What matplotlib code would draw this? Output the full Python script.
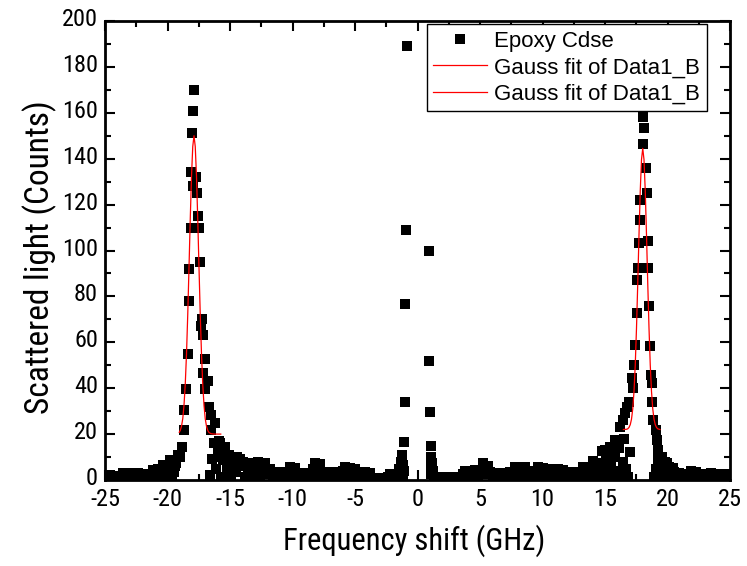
import matplotlib
matplotlib.use('Agg')
import matplotlib.pyplot as plt
import numpy as np
from matplotlib.ticker import MultipleLocator
from matplotlib import font_manager
from matplotlib.font_manager import FontProperties
from matplotlib.transforms import ScaledTranslation

# ---------------- data ----------------
left_base_x = [-25.0, -24.8, -24.6, -24.4, -24.2, -24.0, -23.8, -23.6, -23.4, -23.2, -23.0, -22.8,
               -22.6, -22.4, -22.2, -22.0, -21.8, -21.6, -21.4, -21.2, -21.0, -20.8, -20.6, -20.4,
               -20.2, -20.0, -19.8, -19.6, -19.5, -19.4, -19.3, -19.2]
left_base_y = [1.8, 0.6, 2.0, 1.1, 1.9, 0.7, 1.6, 3.2, 1.2, 2.9, 0.8, 2.4,
               1.3, 3.1, 0.9, 2.3, 1.2, 2.6, 1.0, 4.4, 1.8, 4.6, 2.6, 6.5,
               1.4, 5.8, 8.7, 1.8, 3.5, 6.0, 7.5, 11.0]

left_peak_x = [-19.0, -18.87, -18.7, -18.65, -18.5, -18.4, -18.25, -18.3, -18.15, -18.1, -18.04, -17.96,
               -17.86, -17.93, -17.74, -17.6, -17.53, -17.46, -17.4, -17.35, -17.27, -17.2, -17.0, -17.13,
               -16.8, -17.0, -16.7, -16.5, -16.2, -16.5, -15.8, -15.4, -15.8, -15.0, -14.47]
left_peak_y = [10.2, 14.5, 21.8, 30.5, 39.6, 55, 78, 92, 110, 134, 151, 161,
               170, 128, 132, 125, 115, 110, 95, 67, 70, 63, 52.7, 46.5,
               43, 39.6, 32, 28.3, 24.7, 21.8, 16, 14.5, 10.2, 9.4, 10.2]

flank_x = [-16.6, -16.45, -16.3, -16.15, -16.0, -15.85, -15.7, -15.55, -15.4, -15.25, -15.1, -14.95,
           -14.8, -14.65, -14.5, -14.35, -14.2]
flank_y = [2.0, 9.0, 16.0, 5.0, 12.5, 17.0, 1.5, 8.5, 14.0, 4.5, 11.0, 1.2,
           7.5, 9.6, 3.5, 6.0, 9.0]

mid_base_x = [-14.0, -13.8, -13.6, -13.4, -13.2, -13.0, -12.8, -12.6, -12.4, -12.2, -12.0, -11.8,
              -11.6, -11.4, -11.2, -11.0, -10.8, -10.6, -10.4, -10.2, -10.0, -9.8, -9.6, -9.4,
              -9.2, -9.0, -8.8, -8.6, -8.4, -8.2, -8.0, -7.8, -7.6, -7.4, -7.2, -7.0,
              -6.8, -6.6, -6.4, -6.2, -6.0, -5.8, -5.6, -5.4, -5.2, -5.0, -4.8, -4.6,
              -4.4, -4.2, -4.0, -3.8, -3.6, -3.4, -3.2, -3.0, -2.8, -2.6, -2.4, -2.2,
              -2.0, -1.8, -1.6, -1.5, -1.4, -1.35, -1.3, -1.2, -1.15, -1.1]
mid_base_y = [8.0, 1.5, 4.8, 7.4, 2.0, 5.5, 7.8, 1.2, 4.5, 7.4, 2.5, 5.0,
              1.0, 3.7, 2.0, 3.5, 0.8, 3.6, 2.0, 5.5, 1.5, 5.3, 3.0, 1.0,
              3.2, 1.8, 3.0, 1.0, 5.0, 7.6, 2.0, 7.0, 3.5, 1.0, 3.7, 2.0,
              3.5, 0.8, 3.6, 1.8, 4.0, 5.5, 1.2, 5.3, 3.0, 5.0, 1.0, 3.7,
              2.0, 3.5, 0.8, 3.0, 1.0, 0.5, 1.0, 0.4, 0.9, 0.5, 1.2, 2.4,
              1.0, 2.4, 1.5, 5.0, 3.0, 8.0, 2.0, 6.5, 1.5, 4.0]

rayleigh_x = [-1.24, -1.08, -1.03, -0.98, -0.92, -0.82, 0.9, 0.94, 1.0, 1.06, 1.06, 1.05, 1.1, 1.15, 1.2, 1.3]
rayleigh_y = [10.9, 16.4, 33.8, 76.7, 108.9, 189.2, 99.9, 51.9, 29.8, 14.8, 10.2, 6.0, 2.5, 7.5, 4.0, 1.5]

right_base_x = [1.4, 1.6, 1.8, 2.0, 2.2, 2.4, 2.6, 2.8, 3.0, 3.2, 3.4, 3.6,
                3.8, 4.0, 4.2, 4.4, 4.6, 4.8, 5.0, 5.2, 5.4, 5.6, 5.8, 6.0,
                6.2, 6.4, 6.6, 6.8, 7.0, 7.2, 7.4, 7.6, 7.8, 8.0, 8.2, 8.4,
                8.6, 8.8, 9.0, 9.2, 9.4, 9.6, 9.8, 10.0, 10.2, 10.4, 10.6, 10.8,
                11.0, 11.2, 11.4, 11.6, 11.8, 12.0, 12.2, 12.4, 12.6, 12.8, 13.0, 13.2,
                13.4, 13.6, 13.8, 14.0, 14.2, 14.4, 14.6, 14.75, 14.9, 15.05, 15.2, 15.35,
                15.5, 15.65, 15.8, 15.95, 16.1, 16.25, 16.4, 16.55, 16.7, 16.85, 17.0]
right_base_y = [1.0, 0.5, 1.2, 0.4, 0.9, 0.6, 1.1, 0.5, 1.0, 0.6, 1.3, 2.5,
                4.0, 1.0, 3.5, 2.0, 4.2, 1.2, 4.0, 7.4, 2.5, 6.0, 3.5, 1.0,
                3.0, 2.0, 3.2, 0.8, 3.0, 1.8, 3.3, 1.0, 5.5, 3.0, 5.3, 1.2,
                5.5, 2.5, 4.0, 1.0, 3.7, 5.5, 1.5, 5.2, 3.0, 5.0, 1.0, 4.8,
                2.5, 5.0, 1.2, 4.5, 2.8, 3.7, 1.0, 3.5, 2.0, 3.7, 1.2, 5.5,
                3.0, 5.0, 1.5, 8.4, 4.5, 7.5, 1.5, 12.5, 5.0, 9.0, 2.0, 12.0,
                6.5, 1.8, 10.0, 4.0, 14.0, 2.0, 8.0, 18.0, 5.0, 1.5, 12.0]

right_peak_x = [15.0, 15.4, 15.8, 16.2, 16.47, 16.6, 16.73, 16.95, 17.27, 17.19, 17.35, 17.4,
                17.53, 17.59, 17.61, 17.75, 17.8, 17.8, 18.01, 18.15, 18.07, 18.28, 18.33, 18.41,
                18.47, 18.49, 18.6, 18.68, 18.73, 18.79, 18.87, 19.08, 19.18, 19.27, 19.53, 19.93, 20.47]
right_peak_y = [13.1, 14.5, 17.4, 23.2, 26.1, 29, 31.9, 34.1, 40, 44.3, 50.1, 58.8,
                72.6, 87.1, 92.2, 103.4, 113.3, 122, 146.3, 153.2, 158.0, 136.1, 125.2, 104.1,
                92.2, 75.8, 58.4, 45.8, 42.4, 34.1, 26.1, 21.8, 17.4, 13.1, 10.2, 7.3, 5.1]

far_right_x = [18.95, 19.1, 19.2, 19.3, 19.4, 19.55, 19.7, 19.8, 19.9, 20.1, 20.3, 20.5,
               20.7, 20.9, 21.1, 21.3, 21.5, 21.7, 21.9, 22.1, 22.3, 22.5, 22.7, 22.9,
               23.1, 23.3, 23.5, 23.7, 23.9, 24.1, 24.3, 24.5, 24.7, 24.9, 25.0]
far_right_y = [1.5, 5.0, 9.0, 2.0, 6.0, 1.0, 4.0, 8.0, 2.0, 5.5, 1.0, 3.5,
               1.0, 3.0, 1.5, 2.8, 0.8, 2.6, 3.8, 1.2, 3.5, 1.5, 2.6, 0.8,
               2.8, 1.4, 2.9, 0.9, 2.5, 1.4, 2.8, 0.8, 2.5, 1.2, 2.0]

# Gauss fit curves
fit_left_x = [-19.06, -18.98, -18.88, -18.78, -18.68, -18.58, -18.48, -18.38, -18.28, -18.18, -18.08, -17.98,
              -17.88, -17.78, -17.68, -17.58, -17.48, -17.38, -17.28, -17.18, -17.08, -16.98, -16.88, -16.78,
              -16.68, -16.53, -16.28, -15.74]
fit_left_y = [20.8, 21.6, 23.4, 26.7, 32.6, 41.7, 54.9, 72.2, 92.5, 113.6, 132.3, 145.3,
              150.0, 145.3, 132.3, 113.6, 92.5, 72.2, 54.9, 41.7, 32.6, 26.7, 23.4, 21.6,
              20.7, 20.2, 20.0, 20.0]

fit_right_x = [16.47, 16.72, 16.82, 16.92, 17.02, 17.12, 17.22, 17.32, 17.42, 17.52, 17.62, 17.72,
               17.82, 17.92, 18.02, 18.12, 18.22, 18.32, 18.42, 18.52, 18.62, 18.72, 18.82, 18.92,
               19.02, 19.12, 19.22, 19.4]
fit_right_y = [22.0, 22.1, 22.3, 22.9, 24.1, 26.5, 31.0, 38.6, 50.2, 66.2, 85.7, 106.9,
               126.0, 139.6, 144.5, 139.6, 126.0, 106.9, 85.7, 66.2, 50.2, 38.6, 31.0, 26.5,
               24.1, 22.9, 22.3, 22.0]

x_ticks = [-25, -20, -15, -10, -5, 0, 5, 10, 15, 20, 25]
y_ticks = [0, 20, 40, 60, 80, 100, 120, 140, 160, 180, 200]

series_label = 'Epoxy Cdse'
fit_label = 'Gauss fit of Data1_B'
x_label = 'Frequency shift (GHz)'
y_label = 'Scattered light (Counts)'

# ---------------- fonts: look for a condensed sans face ----------------
plt.rcParams['axes.unicode_minus'] = False
pref = ['LiberationSansNarrow-Regular', 'RobotoCondensed-Regular', 'NotoSans-Condensed.',
        'NotoSans-CondensedRegular', 'DejaVuSansCondensed.', 'OpenSans_Condensed-Regular',
        'OpenSansCondensed', 'Condensed-Regular', 'Narrow-Regular', 'Condensed.', 'Narrow.']
files = [f.fname for f in font_manager.fontManager.ttflist]
cond_file = None
for p in pref:
    for fn in files:
        base = fn.split('/')[-1]
        if p in base and 'Bold' not in base and 'Italic' not in base and 'Light' not in base:
            cond_file = fn
            break
    if cond_file:
        break

if cond_file:
    xlabel_fp = FontProperties(fname=cond_file, size=22)
    ylabel_fp = FontProperties(fname=cond_file, size=24)
    tick_fp = FontProperties(fname=cond_file, size=17.5)
else:
    xlabel_fp = FontProperties(family='Liberation Sans', size=19)
    ylabel_fp = FontProperties(family='Liberation Sans', size=20)
    tick_fp = FontProperties(family='Liberation Sans', size=16)

# ---------------- figure ----------------
fig = plt.figure(figsize=(7.47, 5.66), dpi=100)
ax = fig.add_axes([105 / 747, 1 - 480 / 566, 625 / 747, 459 / 566])

xs = np.concatenate([left_base_x, left_peak_x, flank_x, mid_base_x, rayleigh_x,
                     right_base_x, right_peak_x, far_right_x])
ys = np.concatenate([left_base_y, left_peak_y, flank_y, mid_base_y, rayleigh_y,
                     right_base_y, right_peak_y, far_right_y])

ax.plot(xs, ys, linestyle='none', marker='s', markersize=6.5, color='black',
        markeredgewidth=0, label=series_label, zorder=2)
ax.plot(fit_left_x, fit_left_y, color='red', linewidth=0.9, label=fit_label, zorder=3)
ax.plot(fit_right_x, fit_right_y, color='red', linewidth=0.9, label=fit_label, zorder=3)

ax.set_xlim(-25, 25)
ax.set_ylim(0, 200)
ax.set_xticks(x_ticks)
ax.set_yticks(y_ticks)
ax.set_xticklabels([str(t) for t in x_ticks], fontproperties=tick_fp)
ax.set_yticklabels([str(t) for t in y_ticks], fontproperties=tick_fp)
ax.xaxis.set_minor_locator(MultipleLocator(2.5))
ax.yaxis.set_minor_locator(MultipleLocator(10))
ax.tick_params(which='both', direction='in', top=True, right=True, width=1.5)
ax.tick_params(which='major', length=7)
ax.tick_params(which='minor', length=4)
ax.tick_params(axis='x', pad=6)
ax.tick_params(axis='y', pad=5)
for s in ax.spines.values():
    s.set_linewidth(2)

# y tick labels sit slightly above their ticks in the reference
shift_up = ScaledTranslation(0, 4 / 100, fig.dpi_scale_trans)
for lab in ax.get_yticklabels():
    lab.set_transform(lab.get_transform() + shift_up)

fig.text(414 / 747, 1 - 541 / 566, x_label, ha='center', va='center', fontproperties=xlabel_fp)
fig.text(40 / 747, 1 - 257 / 566, y_label, ha='center', va='center', rotation=90,
         fontproperties=ylabel_fp)

leg = ax.legend(loc='upper right', bbox_to_anchor=(0.963, 0.9935), borderaxespad=0,
                prop={'family': 'Liberation Sans', 'size': 16}, frameon=True, fancybox=False,
                edgecolor='black', framealpha=1, handlelength=2.4, handletextpad=0.35,
                labelspacing=0.25, borderpad=0.3, numpoints=1)
leg.get_frame().set_linewidth(1.0)

fig.savefig('out.png', dpi=100)
